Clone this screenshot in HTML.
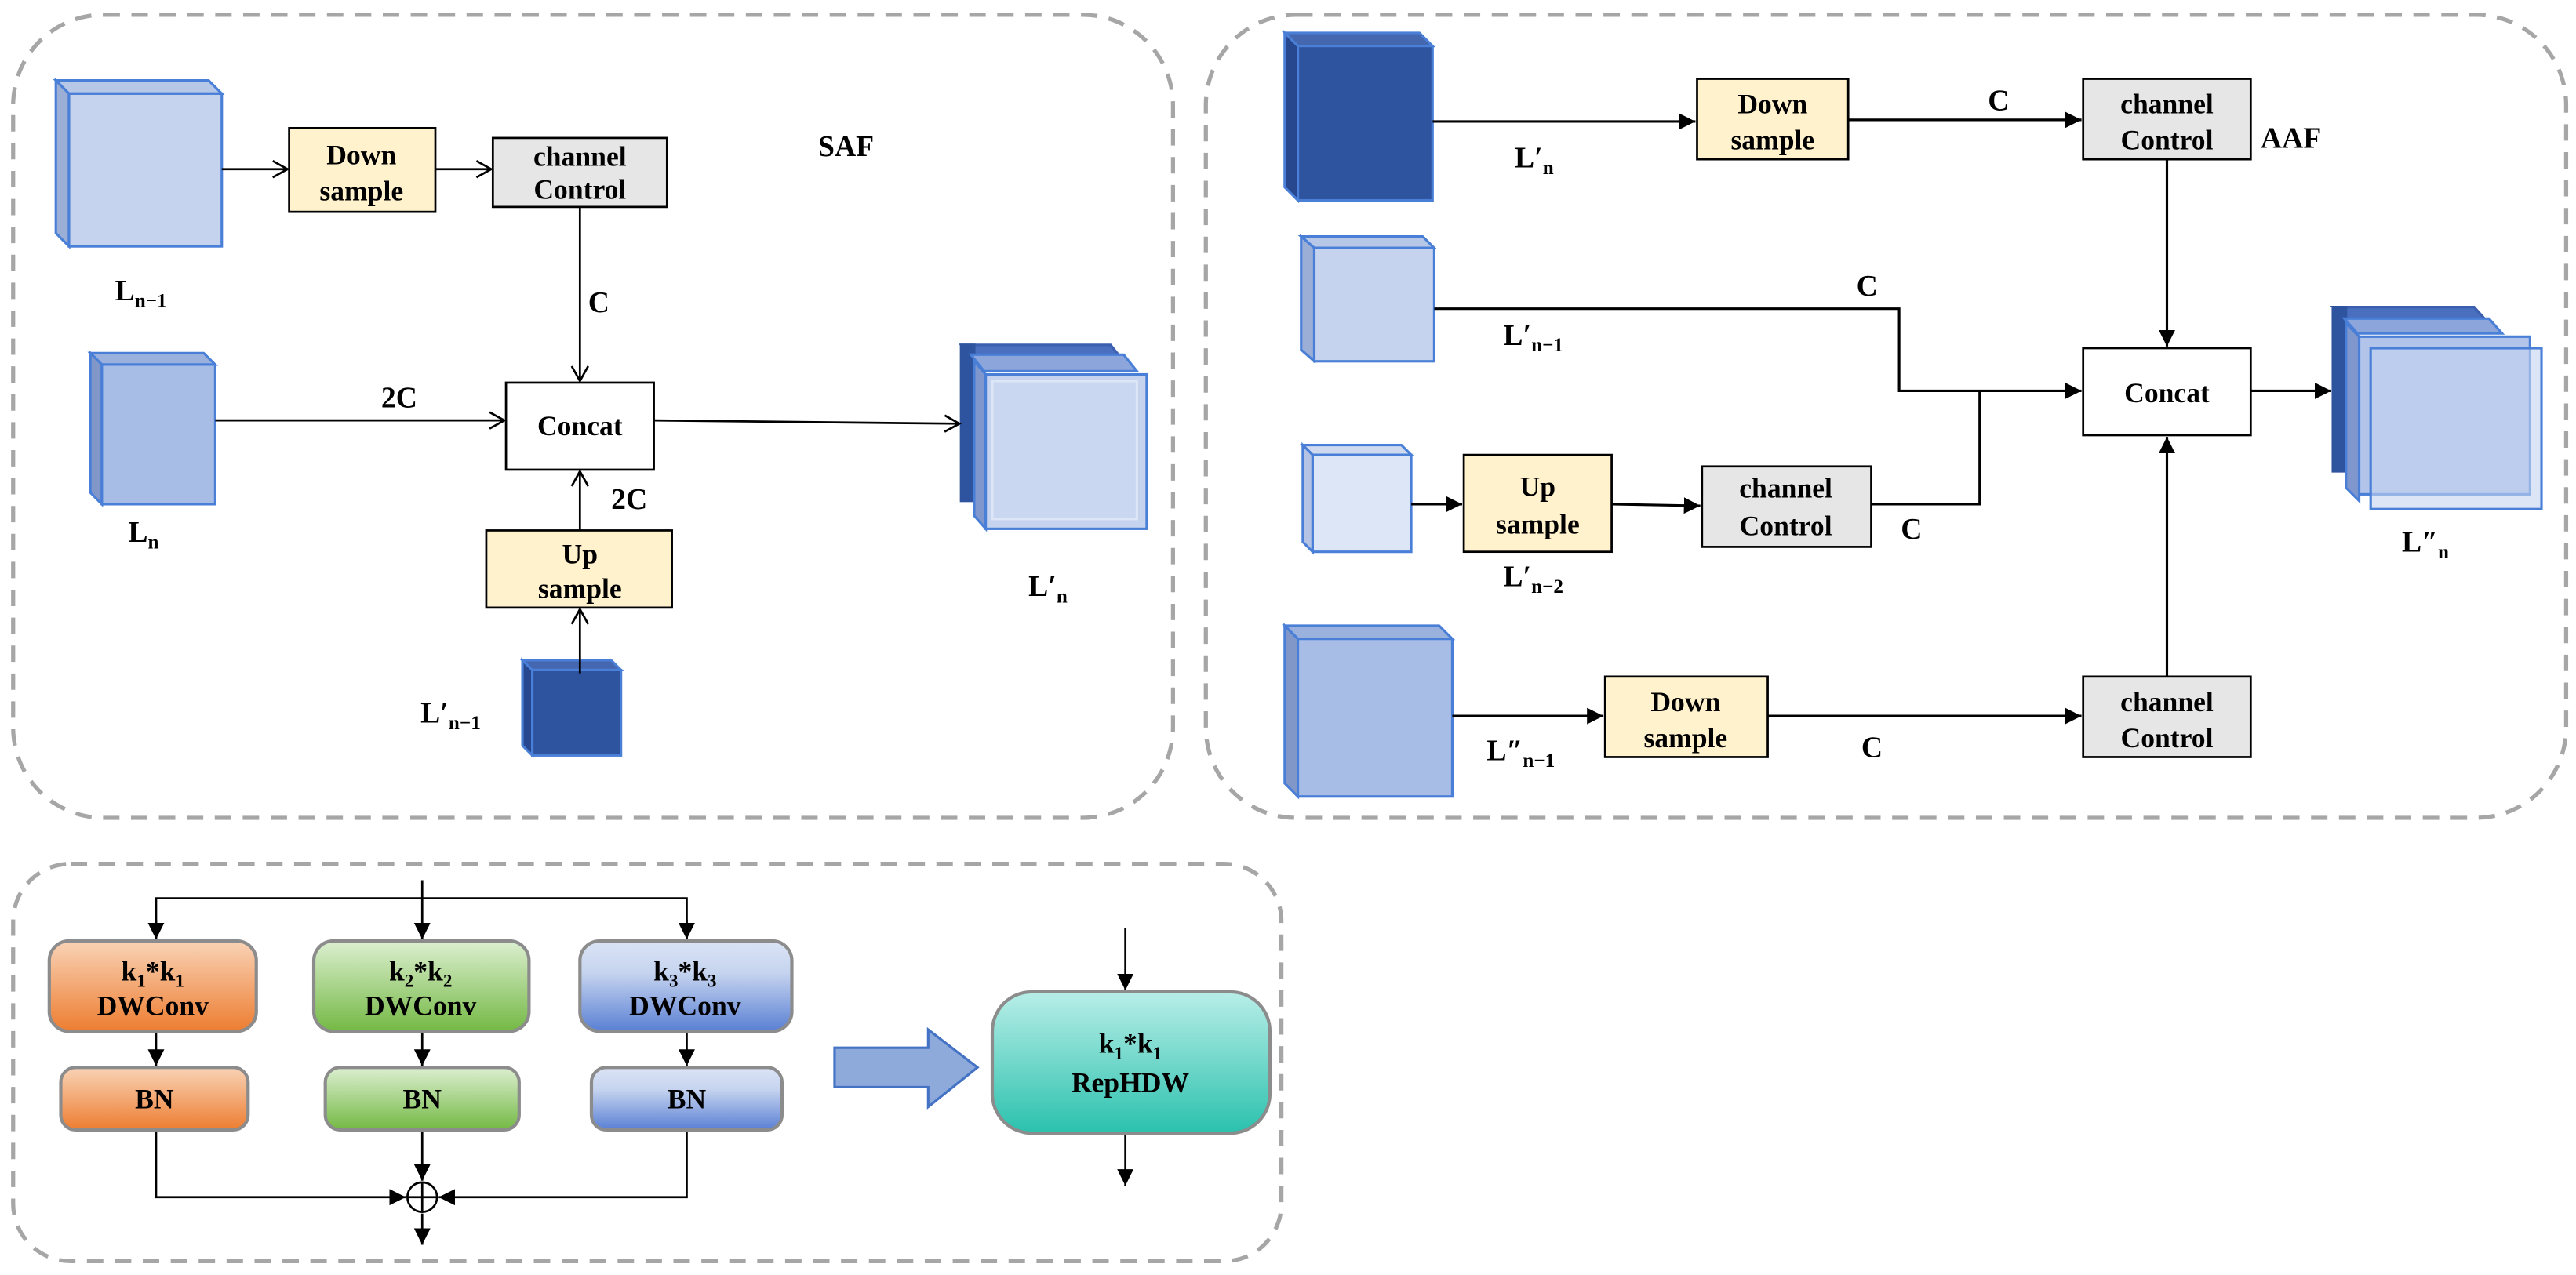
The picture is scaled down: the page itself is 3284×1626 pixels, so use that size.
<!DOCTYPE html>
<html><head><meta charset="utf-8"><style>
html,body{margin:0;padding:0;background:#fff;}
svg{display:block;}
text{font-family:"Liberation Serif",serif;font-weight:bold;fill:#000;}
</style></head><body>
<svg width="3284" height="1626" viewBox="0 0 1568 776.4" preserveAspectRatio="none" xmlns="http://www.w3.org/2000/svg">
<defs>
<marker id="oa" markerWidth="12" markerHeight="12" refX="10" refY="6" orient="auto" markerUnits="userSpaceOnUse"><path d="M1,1 L10,6 L1,11" fill="none" stroke="#000" stroke-width="1.3"/></marker>
<marker id="fa" markerWidth="12" markerHeight="12" refX="10" refY="5" orient="auto" markerUnits="userSpaceOnUse"><path d="M0,0 L10,5 L0,10 z" fill="#000"/></marker>
<linearGradient id="gO" x1="0" y1="0" x2="0" y2="1"><stop offset="0" stop-color="#f9d3b6"/><stop offset="1" stop-color="#ed7d31"/></linearGradient>
<linearGradient id="gG" x1="0" y1="0" x2="0" y2="1"><stop offset="0" stop-color="#dcefd0"/><stop offset="1" stop-color="#74b944"/></linearGradient>
<linearGradient id="gB" x1="0" y1="0" x2="0" y2="1"><stop offset="0" stop-color="#dbe4f5"/><stop offset="0.35" stop-color="#c6d4ef"/><stop offset="1" stop-color="#5a80d4"/></linearGradient>
<linearGradient id="gT" x1="0" y1="0" x2="0" y2="1"><stop offset="0" stop-color="#b8eee8"/><stop offset="1" stop-color="#2bc1ad"/></linearGradient>
</defs>
<g fill="none" stroke="#a6a6a6" stroke-width="2.5" stroke-dasharray="10 7">
<rect x="8" y="9" width="706" height="489" rx="55"/>
<rect x="734" y="9" width="828" height="489" rx="55"/>
<rect x="8" y="526" width="772" height="242" rx="35"/>
</g>

<!-- cubes -->
<g stroke="#4a7fd8" stroke-width="1.5">
<!-- SAF Ln-1 -->
<polygon points="34,49 127,49 135,57 42,57" fill="#b7c7e8"/><polygon points="34,49 42,57 42,150 34,142" fill="#9aaed6"/><rect x="42" y="57" width="93" height="93" fill="#c5d3ee"/>
<!-- SAF Ln -->
<polygon points="55,215 124,215 131,222 62,222" fill="#9ab0dd"/><polygon points="55,215 62,222 62,307 55,300" fill="#8197c8"/><rect x="62" y="222" width="69" height="85" fill="#a8bde6"/>
<!-- SAF L'n-1 -->
<polygon points="318,402 372,402 378,408 324,408" fill="#4567b0"/><polygon points="318,402 324,408 324,460 318,454" fill="#27478f"/><rect x="324" y="408" width="54" height="52" fill="#2e539f"/>
<!-- AAF dark -->
<polygon points="782,20 864,20 872,28 790,28" fill="#4567b0"/><polygon points="782,20 790,28 790,122 782,114" fill="#27478f"/><rect x="790" y="28" width="82" height="94" fill="#2e539f"/>
<!-- AAF L'n-1 -->
<polygon points="792,144 866,144 873,151 800,151" fill="#b7c7e8"/><polygon points="792,144 800,151 800,220 792,213" fill="#9aaed6"/><rect x="800" y="151" width="73" height="69" fill="#c5d3ee"/>
<!-- AAF L'n-2 -->
<polygon points="793,271 853,271 859,277 799,277" fill="#cfdaf1"/><polygon points="793,271 799,277 799,336 793,330" fill="#b5c4e4"/><rect x="799" y="277" width="60" height="59" fill="#dde6f6"/>
<!-- AAF L''n-1 -->
<polygon points="782,381 876,381 884,389 790,389" fill="#9ab0dd"/><polygon points="782,381 790,389 790,485 782,477" fill="#8197c8"/><rect x="790" y="389" width="94" height="96" fill="#a8bde6"/>
</g>

<!-- SAF output stack -->
<g stroke-width="1.5">
<polygon points="585,210 676,210 684,220 593,220" fill="#4a6fbf" stroke="#3b5fae"/>
<rect x="585" y="210" width="8" height="95" fill="#2e539f" stroke="#2e539f"/>
<polygon points="591,216 684,216 692,226 599,226" fill="#8ca6dc" stroke="#4a7fd8"/>
<polygon points="593,220 600,228 600,322 593,314" fill="#7f97cc" stroke="#4a7fd8"/>
<rect x="600" y="228" width="98" height="94" fill="#c5d3ee" stroke="#4a7fd8"/>
<rect x="604" y="232" width="88" height="84" fill="#cad7f0" stroke="#dde6f6"/>
</g>
<!-- AAF output stack -->
<g stroke-width="1.5">
<polygon points="1420,187 1506,187 1515,197 1429,197" fill="#4a6fbf" stroke="#3b5fae"/>
<rect x="1420" y="187" width="8" height="100" fill="#2e539f" stroke="#2e539f"/>
<polygon points="1427,194 1515,194 1523,203 1435,203" fill="#8ca6dc" stroke="#4a7fd8"/>
<polygon points="1428,197 1436,205 1436,305 1428,297" fill="#7f97cc" stroke="#4a7fd8"/>
<rect x="1436" y="205" width="104" height="96" fill="#b2c4ea" stroke="#4a7fd8"/>
<rect x="1443" y="212" width="104" height="98" fill="#c5d3ee" fill-opacity="0.6" stroke="#4a7fd8"/>
</g>

<!-- boxes -->
<g stroke="#000" stroke-width="1.3">
<rect x="176" y="78" width="89" height="51" fill="#fff2cc"/>
<rect x="300" y="84" width="106" height="42" fill="#e6e6e6"/>
<rect x="308" y="233" width="90" height="53" fill="#fff"/>
<rect x="296" y="323" width="113" height="47" fill="#fff2cc"/>
<rect x="1033" y="48" width="92" height="49" fill="#fff2cc"/>
<rect x="1268" y="48" width="102" height="49" fill="#e6e6e6"/>
<rect x="1268" y="212" width="102" height="53" fill="#fff"/>
<rect x="891" y="277" width="90" height="59" fill="#fff2cc"/>
<rect x="1036" y="284" width="103" height="49" fill="#e6e6e6"/>
<rect x="977" y="412" width="99" height="49" fill="#fff2cc"/>
<rect x="1268" y="412" width="102" height="49" fill="#e6e6e6"/>
</g>

<!-- SAF connectors -->
<g stroke="#000" stroke-width="1.3" fill="none">
<line x1="135" y1="103" x2="175" y2="103" marker-end="url(#oa)"/>
<line x1="265" y1="103" x2="299" y2="103" marker-end="url(#oa)"/>
<line x1="353" y1="126" x2="353" y2="232" marker-end="url(#oa)"/>
<line x1="131" y1="256" x2="307" y2="256" marker-end="url(#oa)"/>
<line x1="353" y1="323" x2="353" y2="287" marker-end="url(#oa)"/>
<line x1="353" y1="410" x2="353" y2="371" marker-end="url(#oa)"/>
<line x1="398" y1="256" x2="584" y2="258" marker-end="url(#oa)"/>
</g>
<!-- AAF connectors -->
<g stroke="#000" stroke-width="1.5" fill="none">
<line x1="872" y1="74" x2="1032" y2="74" marker-end="url(#fa)"/>
<line x1="1125" y1="73" x2="1267" y2="73" marker-end="url(#fa)"/>
<line x1="1319" y1="97" x2="1319" y2="211" marker-end="url(#fa)"/>
<polyline points="873,188 1156,188 1156,238 1267,238" marker-end="url(#fa)"/>
<line x1="859" y1="307" x2="890" y2="307" marker-end="url(#fa)"/>
<line x1="981" y1="307" x2="1035" y2="308" marker-end="url(#fa)"/>
<polyline points="1139,307 1205,307 1205,238"/>
<line x1="884" y1="436" x2="976" y2="436" marker-end="url(#fa)"/>
<line x1="1076" y1="436" x2="1267" y2="436" marker-end="url(#fa)"/>
<line x1="1319" y1="412" x2="1319" y2="266" marker-end="url(#fa)"/>
<line x1="1370" y1="238" x2="1419" y2="238" marker-end="url(#fa)"/>
</g>

<!-- box text -->
<g font-size="17" text-anchor="middle">
<text x="220" y="100">Down</text><text x="220" y="122">sample</text>
<text x="353" y="101">channel</text><text x="353" y="121">Control</text>
<text x="353" y="265">Concat</text>
<text x="353" y="343">Up</text><text x="353" y="364">sample</text>
<text x="1079" y="69">Down</text><text x="1079" y="91">sample</text>
<text x="1319" y="69">channel</text><text x="1319" y="91">Control</text>
<text x="1319" y="245">Concat</text>
<text x="936" y="302">Up</text><text x="936" y="325">sample</text>
<text x="1087" y="303">channel</text><text x="1087" y="326">Control</text>
<text x="1026" y="433">Down</text><text x="1026" y="455">sample</text>
<text x="1319" y="433">channel</text><text x="1319" y="455">Control</text>
</g>
<!-- labels -->
<g font-size="18">
<text x="498" y="95">SAF</text>
<text x="1376" y="90">AAF</text>
<text x="358" y="190">C</text>
<text x="232" y="248">2C</text>
<text x="372" y="310">2C</text>
<text x="70" y="183">L<tspan font-size="12" dy="4">n−1</tspan></text>
<text x="78" y="330">L<tspan font-size="12" dy="4">n</tspan></text>
<text x="256" y="440">L′<tspan font-size="12" dy="4">n−1</tspan></text>
<text x="626" y="363">L′<tspan font-size="12" dy="4">n</tspan></text>
<text x="1210" y="67">C</text>
<text x="1130" y="180">C</text>
<text x="1157" y="328">C</text>
<text x="1133" y="461">C</text>
<text x="922" y="102">L′<tspan font-size="12" dy="4">n</tspan></text>
<text x="915" y="210">L′<tspan font-size="12" dy="4">n−1</tspan></text>
<text x="915" y="357">L′<tspan font-size="12" dy="4">n−2</tspan></text>
<text x="905" y="463">L″<tspan font-size="12" dy="4">n−1</tspan></text>
<text x="1462" y="336">L″<tspan font-size="12" dy="4">n</tspan></text>
</g>

<!-- bottom panel -->
<g stroke="#000" stroke-width="1.3" fill="none">
<line x1="257" y1="536" x2="257" y2="572" marker-end="url(#fa)"/>
<polyline points="95,572 95,547 418,547 418,572"/>
<line x1="95" y1="560" x2="95" y2="572" marker-end="url(#fa)"/>
<line x1="418" y1="560" x2="418" y2="572" marker-end="url(#fa)"/>
<line x1="95" y1="628" x2="95" y2="649" marker-end="url(#fa)"/>
<line x1="257" y1="628" x2="257" y2="649" marker-end="url(#fa)"/>
<line x1="418" y1="628" x2="418" y2="649" marker-end="url(#fa)"/>
<polyline points="95,688 95,729 247,729" marker-end="url(#fa)"/>
<polyline points="418,688 418,729 267,729" marker-end="url(#fa)"/>
<line x1="257" y1="688" x2="257" y2="719" marker-end="url(#fa)"/>
<line x1="257" y1="739" x2="257" y2="758" marker-end="url(#fa)"/>
<circle cx="257" cy="729" r="9"/>
<line x1="248" y1="729" x2="266" y2="729"/>
<line x1="257" y1="720" x2="257" y2="738"/>
<line x1="685" y1="565" x2="685" y2="603" marker-end="url(#fa)"/>
<line x1="685" y1="690" x2="685" y2="722" marker-end="url(#fa)"/>
</g>
<g stroke="#8c8c8c" stroke-width="2">
<rect x="30" y="573" width="126" height="55" rx="12" fill="url(#gO)"/>
<rect x="191" y="573" width="131" height="55" rx="12" fill="url(#gG)"/>
<rect x="353" y="573" width="129" height="55" rx="12" fill="url(#gB)"/>
<rect x="37" y="650" width="114" height="38" rx="9" fill="url(#gO)"/>
<rect x="198" y="650" width="118" height="38" rx="9" fill="url(#gG)"/>
<rect x="360" y="650" width="116" height="38" rx="9" fill="url(#gB)"/>
<rect x="604" y="604" width="169" height="86" rx="24" fill="url(#gT)"/>
</g>
<polygon points="508,638 565,638 565,627 595,650 565,674 565,662 508,662" fill="#8eaadb" stroke="#4472c4" stroke-width="1.5"/>
<g font-size="17" text-anchor="middle">
<text x="93" y="597">k<tspan font-size="11" dy="4">1</tspan><tspan dy="-4">*k</tspan><tspan font-size="11" dy="4">1</tspan></text>
<text x="93" y="618">DWConv</text>
<text x="256" y="597">k<tspan font-size="11" dy="4">2</tspan><tspan dy="-4">*k</tspan><tspan font-size="11" dy="4">2</tspan></text>
<text x="256" y="618">DWConv</text>
<text x="417" y="597">k<tspan font-size="11" dy="4">3</tspan><tspan dy="-4">*k</tspan><tspan font-size="11" dy="4">3</tspan></text>
<text x="417" y="618">DWConv</text>
<text x="94" y="675">BN</text><text x="257" y="675">BN</text><text x="418" y="675">BN</text>
<text x="688" y="641">k<tspan font-size="11" dy="4">1</tspan><tspan dy="-4">*k</tspan><tspan font-size="11" dy="4">1</tspan></text>
<text x="688" y="665">RepHDW</text>
</g>
</svg>
</body></html>
